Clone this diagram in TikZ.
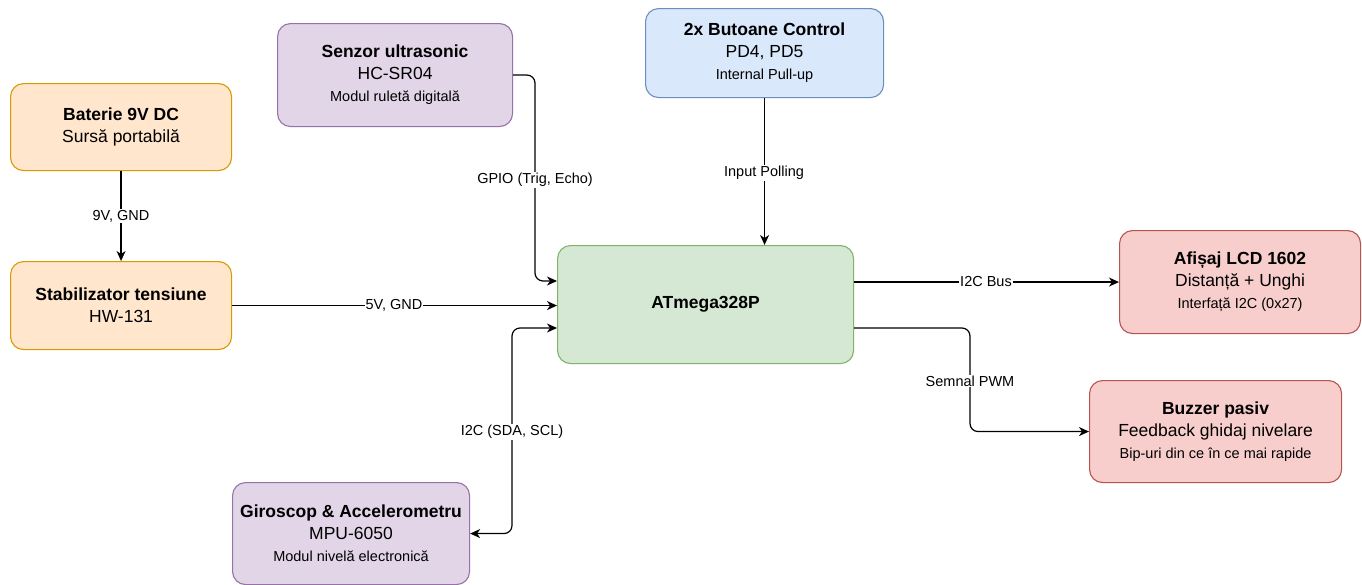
\documentclass[tikz,border=0pt]{standalone}
\usepackage{fontspec}
\setmainfont{Liberation Sans}
\usetikzlibrary{arrows.meta}
\definecolor{orF}{HTML}{FFE6CC}\definecolor{orD}{HTML}{D79B00}
\definecolor{puF}{HTML}{E1D5E7}\definecolor{puD}{HTML}{9673A6}
\definecolor{blF}{HTML}{DAE8FC}\definecolor{blD}{HTML}{6C8EBF}
\definecolor{grF}{HTML}{D5E8D4}\definecolor{grD}{HTML}{82B366}
\definecolor{reF}{HTML}{F8CECC}\definecolor{reD}{HTML}{B85450}
\newcommand\smalltxt[1]{{\fontsize{14.5}{22}\selectfont #1}}
\begin{document}
\begin{tikzpicture}[x=1pt,y=-1pt,
  box/.style={draw, line width=1.1pt, rounded corners=13pt, inner sep=0pt, align=center,
    anchor=north west, font=\fontsize{17.5}{22}\selectfont},
  orbox/.style={box, fill=orF, draw=orD},
  pubox/.style={box, fill=puF, draw=puD},
  blbox/.style={box, fill=blF, draw=blD},
  grbox/.style={box, fill=grF, draw=grD},
  rebox/.style={box, fill=reF, draw=reD},
  tip/.style={Stealth[length=10pt,width=9pt,inset=3pt]},
  conn/.style={line width=1.2pt, rounded corners=8pt, -{Stealth[length=10pt,width=9pt,inset=3pt]}},
  biconn/.style={line width=1.2pt, rounded corners=8pt, {Stealth[length=10pt,width=9pt,inset=3pt]}-{Stealth[length=10pt,width=9pt,inset=3pt]}},
  lbl/.style={fill=white, inner sep=1pt, font=\fontsize{14.5}{16}\selectfont}]
\useasboundingbox (0,0) rectangle (1362,584);

\node[orbox, minimum width=221pt, minimum height=87pt] (bat) at (10,83)
  {\textbf{Baterie 9V DC}\\Sursă portabilă};
\node[orbox, minimum width=221pt, minimum height=88pt] (stab) at (10,261)
  {\textbf{Stabilizator tensiune}\\HW-131};
\node[pubox, minimum width=235pt, minimum height=103pt] (sen) at (277,23)
  {\textbf{Senzor ultrasonic}\\HC-SR04\\\smalltxt{Modul ruletă digitală}};
\node[blbox, minimum width=238pt, minimum height=89pt] (but) at (645,8)
  {\textbf{2x Butoane Control}\\PD4, PD5\\\smalltxt{Internal Pull-up}};
\node[grbox, minimum width=296pt, minimum height=118pt] (atm) at (557,245)
  {\textbf{ATmega328P}};
\node[rebox, minimum width=241pt, minimum height=103pt] (afis) at (1119,230)
  {\textbf{Afișaj LCD 1602}\\Distanță + Unghi\\\smalltxt{Interfață I2C (0x27)}};
\node[rebox, minimum width=252pt, minimum height=102pt] (buz) at (1089,380)
  {\textbf{Buzzer pasiv}\\Feedback ghidaj nivelare\\\smalltxt{Bip-uri din ce în ce mai rapide}};
\node[pubox, minimum width=237pt, minimum height=102pt] (gyr) at (232,482)
  {\textbf{Giroscop \& Accelerometru}\\MPU-6050\\\smalltxt{Modul nivelă electronică}};

\coordinate (s1) at (535,281);
\coordinate (g1) at (512,328);
\coordinate (p1) at (970,328);

\draw[conn] (bat.south) -- (stab.north);
\draw[conn] (stab.east) -- (stab.east -| atm.west);
\draw[conn] (sen.east) -| (s1) -- (s1 -| atm.west);
\draw[conn] (but.south) -- (but.south |- atm.north);
\draw[biconn] (g1 -| atm.west) -- (g1) |- (gyr.east);
\draw[conn] (afis.west -| atm.east) -- (afis.west);
\draw[conn] (p1 -| atm.east) -- (p1) |- (buz.west);

\node[lbl] (l1) at (121,216) {9V, GND};
\node[lbl] (l2) at (394,305) {5V, GND};
\node[lbl] (l3) at (535,180) {GPIO (Trig, Echo)};
\node[lbl] (l4) at (764,173) {Input Polling};
\node[lbl] (l5) at (512,432) {I2C (SDA, SCL)};
\node[lbl] (l6) at (986,282) {I2C Bus};
\node[lbl] (l7) at (970,381) {Semnal PWM};
\end{tikzpicture}
\end{document}
